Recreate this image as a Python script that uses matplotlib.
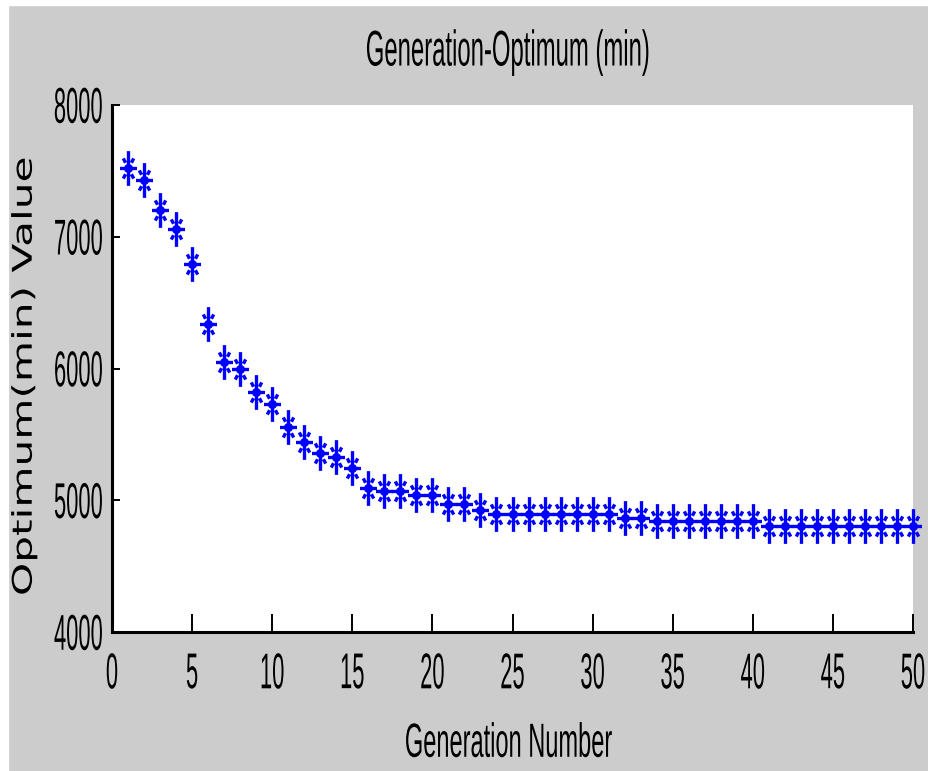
import numpy as np
import matplotlib
matplotlib.use('Agg')
import matplotlib.pyplot as plt
from matplotlib.path import Path
from matplotlib.patches import Rectangle
from matplotlib.patheffects import AbstractPathEffect
from matplotlib.transforms import Affine2D

# best (minimum) objective value found in each generation
generations = list(range(1, 51))
best_values = [7522, 7431, 7203, 7059, 6793, 6338, 6047, 5994, 5819, 5731,
               5559, 5440, 5356, 5331, 5242, 5096, 5070, 5070, 5040, 5040,
               4972, 4972, 4926, 4896, 4896, 4896, 4896, 4896, 4896, 4896,
               4896, 4863, 4863, 4845, 4845, 4845, 4845, 4845, 4845, 4845,
               4807, 4807, 4807, 4807, 4807, 4807, 4807, 4807, 4807, 4807]

x_ticks = [0, 5, 10, 15, 20, 25, 30, 35, 40, 45, 50]
y_ticks = [4000, 5000, 6000, 7000, 8000]

plt.rcParams['font.family'] = ['Liberation Sans', 'DejaVu Sans']


class Stretch(AbstractPathEffect):
    """Scale text glyphs along (sx) and across (sy) the line of text."""

    def __init__(self, sx=1.0, sy=1.0):
        super().__init__()
        self.sx, self.sy = sx, sy

    def draw_path(self, renderer, gc, tpath, affine, rgbFace=None):
        ext = tpath.get_extents()
        cx = (ext.x0 + ext.x1) / 2
        cy = (ext.y0 + ext.y1) / 2
        stretch = Affine2D().translate(-cx, -cy).scale(self.sx, self.sy).translate(cx, cy)
        renderer.draw_path(gc, tpath, stretch + affine, rgbFace)


def asterisk_marker():
    # tall plus sign with short diagonal strokes, like the MATLAB '*'
    verts = [(0, -1), (0, 1), (-0.49, 0), (0.49, 0),
             (0.17, 0.33), (0.30, 0.58), (-0.17, 0.33), (-0.30, 0.58),
             (0.17, -0.33), (0.30, -0.58), (-0.17, -0.33), (-0.30, -0.58)]
    codes = [Path.MOVETO, Path.LINETO] * 6
    return Path(verts, codes)


fig = plt.figure(figsize=(9.29, 7.71), dpi=100, facecolor='#cccccc')
fig.add_artist(Rectangle((0, 0), 8 / 929, 1, transform=fig.transFigure,
                         color='white', zorder=0))
fig.add_artist(Rectangle((0, 1 - 5 / 771), 1, 5 / 771, transform=fig.transFigure,
                         color='white', zorder=0))

ax = fig.add_axes([112 / 929, 139 / 771, 801 / 929, 527 / 771])
ax.set_facecolor('white')

ax.plot(generations, best_values, linestyle='none', marker=asterisk_marker(),
        markersize=25, markeredgewidth=2.4, color='blue', markerfacecolor='none',
        clip_on=False)
ax.plot(generations, best_values, linestyle='none', marker='o', markersize=6.5,
        markeredgewidth=0, color='blue', clip_on=False)

ax.set_xlim(0, 50)
ax.set_ylim(4000, 8000)
ax.set_xticks(x_ticks)
ax.set_yticks(y_ticks)

for side in ['top', 'right']:
    ax.spines[side].set_visible(False)
for side in ['left', 'bottom']:
    ax.spines[side].set_linewidth(2.2)

ax.tick_params(axis='x', direction='in', length=13, width=1.4, pad=22, labelsize=15.8)
ax.tick_params(axis='y', direction='in', length=6, width=1.4, pad=6.5, labelsize=15.8)

# tall, narrow digits
for lab in ax.get_xticklabels() + ax.get_yticklabels():
    lab.set_path_effects([Stretch(sy=2.29)])

ax.set_title('Generation-Optimum (min)', fontsize=17.2, pad=33.3, x=0.494,
             path_effects=[Stretch(sy=2.1)])
ax.set_xlabel('Generation Number', fontsize=17, va='baseline',
              path_effects=[Stretch(sy=2.03)])
ax.xaxis.set_label_coords(0.495, -0.2203)
ax.set_ylabel('Optimum(min) Value', fontsize=19.5, family='DejaVu Sans', va='center',
              path_effects=[Stretch(sx=1.56)])
ax.yaxis.set_label_coords(-0.109, 0.486)

fig.savefig('out.png', dpi=100, facecolor=fig.get_facecolor())
